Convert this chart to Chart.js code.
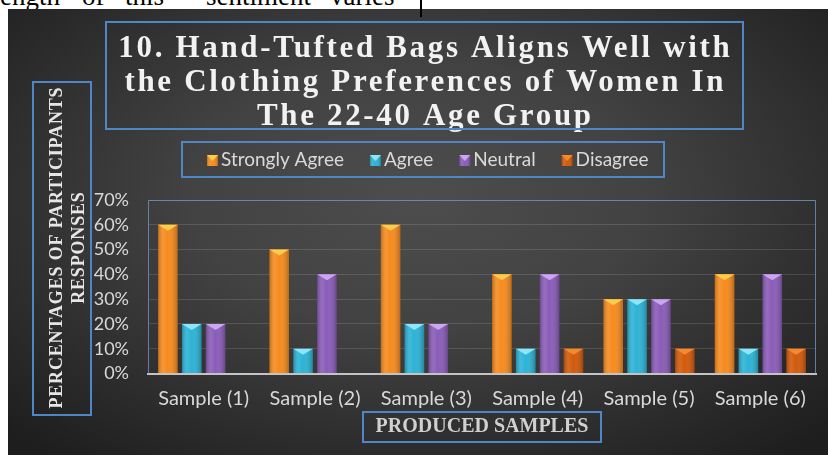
<!DOCTYPE html>
<html>
<head>
<meta charset="utf-8">
<script src="https://cdn.jsdelivr.net/npm/chart.js@4.4.0/dist/chart.umd.min.js"></script>
<style>
  body { margin: 0; background: #fff; width: 828px; height: 455px; overflow: hidden; position: relative; }
  .w { position: absolute; top: -17px; font: 27px "Liberation Serif", serif; color: #000; white-space: nowrap; line-height: 27px; }
  #cut { position: absolute; left: 420px; top: 0; width: 2px; height: 17px; background: #000; z-index: 2; }
  #bg { position: absolute; left: 8px; top: 9px; right: 0; bottom: 0;
        background: radial-gradient(ellipse 70% 75% at 50% 42%, #4d4d4d 0%, #424242 40%, #2d2d2d 75%, #1e1e1e 100%); }
  #wrap { position: absolute; left: 0; top: 0; width: 828px; height: 455px; }
</style>
</head>
<body>
<span class="w" style="left:0px">ength</span>
<span class="w" style="left:82px">of</span>
<span class="w" style="left:125px">this</span>
<span class="w" style="left:206px">sentiment</span>
<span class="w" style="left:330px">varies</span>
<div id="bg"></div>
<div id="cut"></div>
<div id="wrap"><canvas id="chart" width="828" height="455"></canvas></div>
<script>
const titleLines = ['10. Hand-Tufted Bags Aligns Well with', 'the Clothing Preferences of Women In', 'The 22-40 Age Group'];
const yTitle = ['PERCENTAGES OF PARTICIPANTS', 'RESPONSES'];
const xTitle = 'PRODUCED SAMPLES';
const samples = ['Sample (1)', 'Sample (2)', 'Sample (3)', 'Sample (4)', 'Sample (5)', 'Sample (6)'];
const stronglyAgree = [60, 50, 60, 40, 30, 40];
const agree = [20, 10, 20, 10, 30, 10];
const neutral = [20, 40, 20, 40, 30, 40];
const disagree = [0, 0, 0, 10, 10, 10];

const colors = ['#f68b1f', '#2db3d6', '#8a5cb8', '#d25a0c'];
const caps = ['#fccd4a', '#8de6f7', '#c9a6ee', '#f58a2c'];
const boxBlue = '#4f86c6';

function shade(ctx, left, top, w, h, cap) {
  let g = ctx.createLinearGradient(left, 0, left + w, 0);
  g.addColorStop(0, 'rgba(0,0,0,0.22)');
  g.addColorStop(0.25, 'rgba(255,255,255,0.10)');
  g.addColorStop(0.5, 'rgba(255,255,255,0.0)');
  g.addColorStop(1, 'rgba(0,0,0,0.25)');
  ctx.fillStyle = g;
  ctx.fillRect(left, top, w, h);
  ctx.fillStyle = cap;
  ctx.beginPath();
  ctx.moveTo(left, top);
  ctx.lineTo(left + w, top);
  ctx.lineTo(left + w / 2, top + Math.min(6, h));
  ctx.closePath();
  ctx.fill();
}

const decor = {
  id: 'decor',
  afterDatasetsDraw(chart) {
    const ctx = chart.ctx;
    chart.data.datasets.forEach((ds, i) => {
      chart.getDatasetMeta(i).data.forEach((bar, j) => {
        if (!ds.data[j]) return;
        const p = bar.getProps(['x', 'y', 'width', 'base'], true);
        ctx.save();
        shade(ctx, p.x - p.width / 2, p.y, p.width, p.base - p.y, caps[i]);
        ctx.restore();
      });
    });
  },
  afterDraw(chart) {
    const ctx = chart.ctx;
    const a = chart.chartArea;
    ctx.save();
    // plot frame
    ctx.strokeStyle = 'rgba(110,140,185,0.85)';
    ctx.lineWidth = 1;
    ctx.beginPath();
    ctx.moveTo(a.left + 0.5, a.bottom);
    ctx.lineTo(a.left + 0.5, a.top + 0.5);
    ctx.lineTo(a.right - 0.5, a.top + 0.5);
    ctx.lineTo(a.right - 0.5, a.bottom);
    ctx.stroke();

    // title
    ctx.fillStyle = '#f2f2f2';
    ctx.font = 'bold 31px "Liberation Serif", serif';
    ctx.textAlign = 'center';
    ctx.textBaseline = 'alphabetic';
    const w0 = ctx.measureText(titleLines[0]).width;
    const ls = Math.max(0, (614 - w0) / titleLines[0].length);
    ctx.letterSpacing = ls + 'px';
    titleLines.forEach((t, k) => ctx.fillText(t, 424 + ls / 2, 57 + k * 34));
    ctx.letterSpacing = '0px';
    ctx.strokeStyle = boxBlue;
    ctx.lineWidth = 2;
    ctx.strokeRect(106, 22, 637, 107);

    // legend
    ctx.strokeRect(182, 142, 482, 35);
    ctx.font = '19px Lato, sans-serif';
    ctx.textAlign = 'left';
    ctx.textBaseline = 'middle';
    let x = 207;
    chart.data.datasets.forEach((ds, i) => {
      ctx.fillStyle = colors[i];
      ctx.fillRect(x, 155, 11, 11);
      shade(ctx, x, 155, 11, 11, caps[i]);
      ctx.fillStyle = '#d9d9d9';
      ctx.fillText(ds.label, x + 14, 160);
      x += 14 + ctx.measureText(ds.label).width + 26;
    });

    // y title
    ctx.strokeStyle = boxBlue;
    ctx.strokeRect(33, 82, 58, 333);
    ctx.save();
    ctx.translate(0, 248);
    ctx.rotate(-Math.PI / 2);
    ctx.font = 'bold 18px "Liberation Serif", serif';
    ctx.textAlign = 'center';
    ctx.fillStyle = '#e6e6e6';
    const wy = ctx.measureText(yTitle[0]).width;
    const lsy = Math.max(0, (322 - wy) / yTitle[0].length);
    ctx.letterSpacing = lsy + 'px';
    ctx.fillText(yTitle[0], lsy / 2, 57);
    ctx.fillText(yTitle[1], lsy / 2, 79);
    ctx.letterSpacing = '0px';
    ctx.restore();

    // x title
    ctx.strokeRect(363, 412, 238, 30);
    ctx.font = 'bold 20px "Liberation Serif", serif';
    ctx.textAlign = 'center';
    ctx.textBaseline = 'middle';
    ctx.fillStyle = '#d0d0d0';
    ctx.fillText(xTitle, 482, 427);
    ctx.restore();
  }
};

new Chart(document.getElementById('chart'), {
  type: 'bar',
  data: {
    labels: samples,
    datasets: [
      { label: 'Strongly Agree', data: stronglyAgree, backgroundColor: colors[0] },
      { label: 'Agree', data: agree, backgroundColor: colors[1] },
      { label: 'Neutral', data: neutral, backgroundColor: colors[2] },
      { label: 'Disagree', data: disagree, backgroundColor: colors[3] }
    ]
  },
  options: {
    responsive: false,
    animation: false,
    layout: { padding: { left: 0, top: 200, right: 12, bottom: 0 } },
    datasets: { bar: { categoryPercentage: 0.857, barPercentage: 0.82 } },
    plugins: { legend: { display: false }, title: { display: false }, tooltip: { enabled: false } },
    scales: {
      x: {
        afterFit(s) { s.height = 81.5; },
        grid: { display: false },
        border: { color: '#c4c4c4', width: 2 },
        ticks: { color: '#d9d9d9', font: { family: 'Lato', size: 20 }, padding: 5 }
      },
      y: {
        min: 0, max: 70,
        afterFit(s) { s.width = 148; },
        grid: { color: 'rgba(255,255,255,0.13)', drawTicks: false },
        border: { display: false },
        ticks: { stepSize: 10, color: '#d9d9d9', font: { family: 'Lato', size: 18 }, padding: 19,
                 callback: v => v + '%' }
      }
    }
  },
  plugins: [decor]
});
</script>
</body>
</html>
